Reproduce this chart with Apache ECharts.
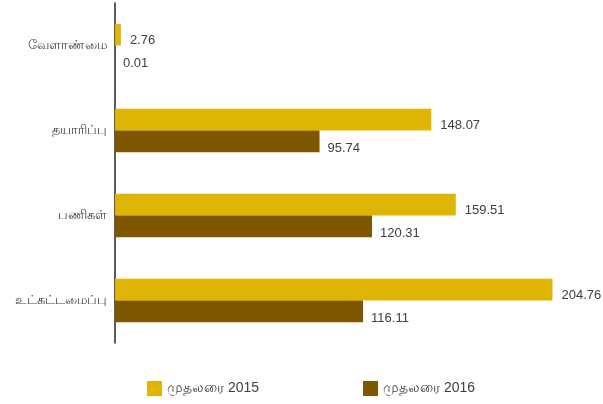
<!DOCTYPE html>
<html>
<head>
<meta charset="utf-8">
<script src="https://cdn.jsdelivr.net/npm/echarts@6/dist/echarts.min.js"></script>
<style>
  html, body { margin: 0; padding: 0; background: #fff; }
  #chart { width: 603px; height: 404px; }
</style>
</head>
<body>
<div id="chart"></div>
<script>
// துறைகள் (மேலிருந்து கீழ்)
var categories = ['வேளாண்மை', 'தயாரிப்பு', 'பணிகள்', 'உட்கட்டமைப்பு'];
var seriesNames = ['முதலரை 2015', 'முதலரை 2016'];
var values2015 = [2.76, 148.07, 159.51, 204.76];
var values2016 = [0.01, 95.74, 120.31, 116.11];

var textFont = '"Liberation Sans", Arial, "Noto Sans", sans-serif';

var option = {
  animation: false,
  color: ['#DFB505', '#7F5700'],
  grid: {
    left: 115,
    top: 3,
    width: 470,
    height: 340
  },
  legend: {
    bottom: 3,
    left: 142,
    itemWidth: 15,
    itemHeight: 15,
    itemGap: 104,
    icon: 'rect',
    textStyle: { color: '#404040', fontSize: 14, fontFamily: textFont },
    data: seriesNames
  },
  xAxis: {
    type: 'value',
    min: 0,
    max: 220,
    show: false
  },
  yAxis: {
    type: 'category',
    inverse: true,
    data: categories,
    axisLine: { show: true, lineStyle: { color: '#262626', width: 1.5 } },
    axisTick: { show: false },
    axisLabel: { color: '#404040', fontSize: 13, margin: 8, fontFamily: textFont }
  },
  series: [
    {
      name: seriesNames[0],
      type: 'bar',
      data: values2015,
      barCategoryGap: '49%',
      barGap: '0%',
      label: {
        show: true, position: 'right', distance: 9, offset: [0, 6],
        color: '#404040', fontSize: 13, fontFamily: textFont
      }
    },
    {
      name: seriesNames[1],
      type: 'bar',
      data: values2016,
      barCategoryGap: '49%',
      barGap: '0%',
      label: {
        show: true, position: 'right', distance: 8, offset: [0, 7],
        color: '#404040', fontSize: 13, fontFamily: textFont
      }
    }
  ]
};

var chart = echarts.init(document.getElementById('chart'));
chart.setOption(option);
</script>
</body>
</html>
